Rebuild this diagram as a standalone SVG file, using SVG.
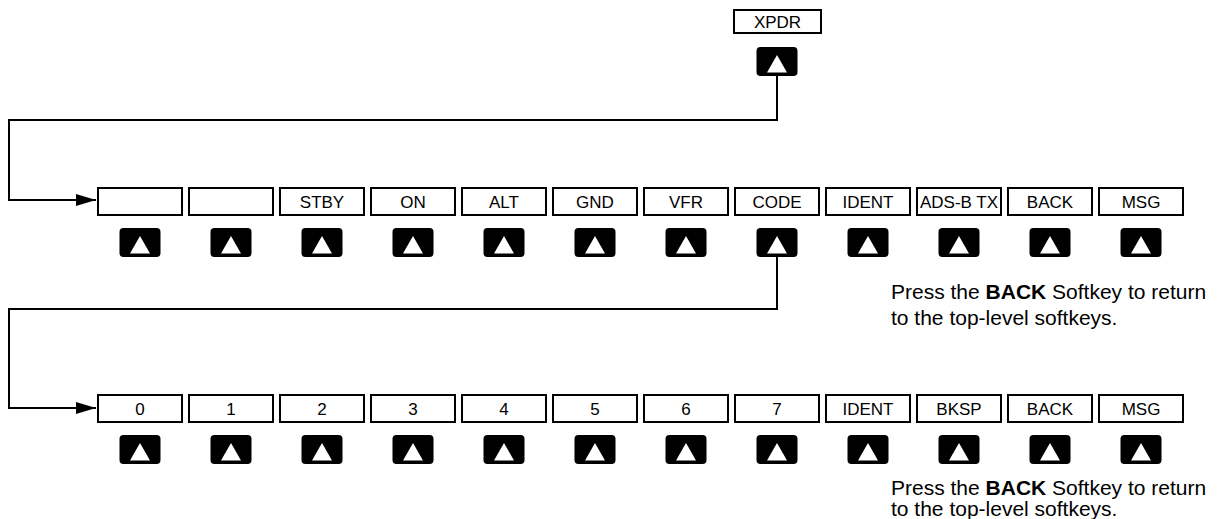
<svg xmlns="http://www.w3.org/2000/svg" width="1220" height="519" viewBox="0 0 1220 519">
<defs>
<style>
.box{fill:#fff;stroke:#000;stroke-width:2}
.btn{fill:#000}
.tri{fill:#fff}
.lbl{font-family:"Liberation Sans",Arial,sans-serif;font-size:17px;fill:#000;text-anchor:middle}
.note{font-family:"Liberation Sans",Arial,sans-serif;font-size:21px;fill:#000}
.conn{fill:none;stroke:#000;stroke-width:2}
</style>
<marker id="arr" viewBox="0 0 20 12" refX="20" refY="6" markerWidth="20" markerHeight="12" markerUnits="userSpaceOnUse" orient="auto">
<path d="M0,0 L20,6 L0,12 Z" fill="#000"/>
</marker>
<g id="key">
<rect class="btn" x="-20.5" y="0" width="41" height="29" rx="4"/>
<path class="tri" d="M0,8 L10,25.5 L-10,25.5 Z"/>
</g>
</defs>

<g id="connectors">
<path class="conn" d="M777,75 V120 H9 V200 H96" marker-end="url(#arr)"/>
<path class="conn" d="M777,257 V309 H9 V408 H96" marker-end="url(#arr)"/>
</g>

<g id="xpdr">
<rect class="box" x="734" y="10" width="87" height="23"/>
<text class="lbl" x="777.5" y="27.5">XPDR</text>
<use href="#key" x="777" y="47"/>
</g>

<g id="row1">
<g id="r1k0"><rect class="box" x="98" y="188" width="84" height="27"/><use href="#key" x="140" y="228"/></g>
<g id="r1k1"><rect class="box" x="189" y="188" width="84" height="27"/><use href="#key" x="231" y="228"/></g>
<g id="r1k2"><rect class="box" x="280" y="188" width="84" height="27"/><text class="lbl" x="322" y="207.5">STBY</text><use href="#key" x="322" y="228"/></g>
<g id="r1k3"><rect class="box" x="371" y="188" width="84" height="27"/><text class="lbl" x="413" y="207.5">ON</text><use href="#key" x="413" y="228"/></g>
<g id="r1k4"><rect class="box" x="462" y="188" width="84" height="27"/><text class="lbl" x="504" y="207.5">ALT</text><use href="#key" x="504" y="228"/></g>
<g id="r1k5"><rect class="box" x="553" y="188" width="84" height="27"/><text class="lbl" x="595" y="207.5">GND</text><use href="#key" x="595" y="228"/></g>
<g id="r1k6"><rect class="box" x="644" y="188" width="84" height="27"/><text class="lbl" x="686" y="207.5">VFR</text><use href="#key" x="686" y="228"/></g>
<g id="r1k7"><rect class="box" x="735" y="188" width="84" height="27"/><text class="lbl" x="777" y="207.5">CODE</text><use href="#key" x="777" y="228"/></g>
<g id="r1k8"><rect class="box" x="826" y="188" width="84" height="27"/><text class="lbl" x="868" y="207.5">IDENT</text><use href="#key" x="868" y="228"/></g>
<g id="r1k9"><rect class="box" x="917" y="188" width="84" height="27"/><text class="lbl" x="959" y="207.5">ADS-B TX</text><use href="#key" x="959" y="228"/></g>
<g id="r1k10"><rect class="box" x="1008" y="188" width="84" height="27"/><text class="lbl" x="1050" y="207.5">BACK</text><use href="#key" x="1050" y="228"/></g>
<g id="r1k11"><rect class="box" x="1099" y="188" width="84" height="27"/><text class="lbl" x="1141" y="207.5">MSG</text><use href="#key" x="1141" y="228"/></g>
</g>

<g id="note1">
<text class="note" x="891" y="299">Press the <tspan font-weight="bold">BACK</tspan> Softkey to return</text>
<text class="note" x="891" y="325">to the top-level softkeys.</text>
</g>

<g id="row2">
<g id="r2k0"><rect class="box" x="98" y="395" width="84" height="27"/><text class="lbl" x="140" y="414.5">0</text><use href="#key" x="140" y="435"/></g>
<g id="r2k1"><rect class="box" x="189" y="395" width="84" height="27"/><text class="lbl" x="231" y="414.5">1</text><use href="#key" x="231" y="435"/></g>
<g id="r2k2"><rect class="box" x="280" y="395" width="84" height="27"/><text class="lbl" x="322" y="414.5">2</text><use href="#key" x="322" y="435"/></g>
<g id="r2k3"><rect class="box" x="371" y="395" width="84" height="27"/><text class="lbl" x="413" y="414.5">3</text><use href="#key" x="413" y="435"/></g>
<g id="r2k4"><rect class="box" x="462" y="395" width="84" height="27"/><text class="lbl" x="504" y="414.5">4</text><use href="#key" x="504" y="435"/></g>
<g id="r2k5"><rect class="box" x="553" y="395" width="84" height="27"/><text class="lbl" x="595" y="414.5">5</text><use href="#key" x="595" y="435"/></g>
<g id="r2k6"><rect class="box" x="644" y="395" width="84" height="27"/><text class="lbl" x="686" y="414.5">6</text><use href="#key" x="686" y="435"/></g>
<g id="r2k7"><rect class="box" x="735" y="395" width="84" height="27"/><text class="lbl" x="777" y="414.5">7</text><use href="#key" x="777" y="435"/></g>
<g id="r2k8"><rect class="box" x="826" y="395" width="84" height="27"/><text class="lbl" x="868" y="414.5">IDENT</text><use href="#key" x="868" y="435"/></g>
<g id="r2k9"><rect class="box" x="917" y="395" width="84" height="27"/><text class="lbl" x="959" y="414.5">BKSP</text><use href="#key" x="959" y="435"/></g>
<g id="r2k10"><rect class="box" x="1008" y="395" width="84" height="27"/><text class="lbl" x="1050" y="414.5">BACK</text><use href="#key" x="1050" y="435"/></g>
<g id="r2k11"><rect class="box" x="1099" y="395" width="84" height="27"/><text class="lbl" x="1141" y="414.5">MSG</text><use href="#key" x="1141" y="435"/></g>
</g>

<g id="note2">
<text class="note" x="891" y="495">Press the <tspan font-weight="bold">BACK</tspan> Softkey to return</text>
<text class="note" x="891" y="516">to the top-level softkeys.</text>
</g>
</svg>
